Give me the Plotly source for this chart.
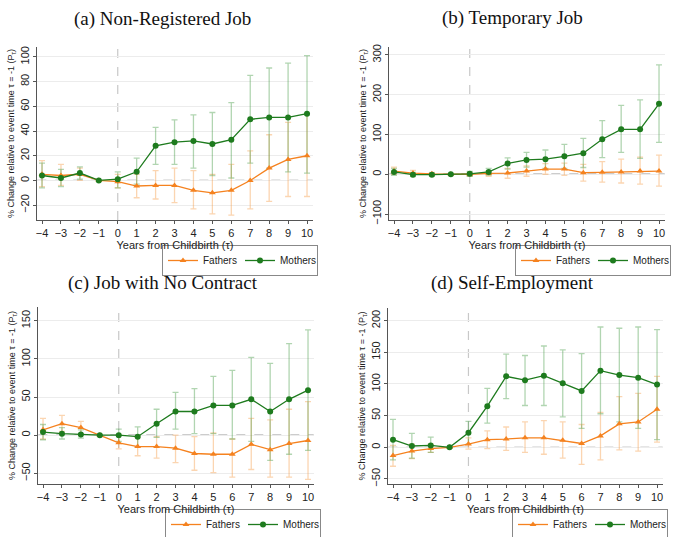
import plotly.graph_objects as go

years = list(range(-4, 11))

titles = ["(a) Non-Registered Job", "(b) Temporary Job", "(c) Job with No Contract", "(d) Self-Employment"]

a_mothers = [4, 2, 6, 0, 1, 7, 28, 31, 32, 29.5, 33, 49.5, 51, 51, 54]
a_mothers_lo = [-6, -5, 1, 0, -6, -3, 13, 13, 10, 4, 2, 14, 10, 7, 6]
a_mothers_hi = [14, 9, 11, 0, 7, 18, 43, 49, 53, 55, 63, 85, 91, 95, 101]
a_fathers = [5, 4, 5, 0, -1, -4.5, -4, -4, -8, -10, -8, 0, 10, 17, 20]
a_fathers_lo = [-5, -4, 0, 0, -6, -14, -15, -18, -23, -27, -28, -23, -17, -13, -13]
a_fathers_hi = [16, 13, 10, 0, 5, 5, 8, 10, 8, 5, 13, 24, 37, 47, 53]

b_mothers = [6, -1, -1, 0, 1, 6, 27, 36, 38, 45, 53, 88, 113, 113, 177]
b_mothers_lo = [-3, -6, -5, 0, -5, -2, 13, 18, 15, 15, 17, 42, 55, 40, 80]
b_mothers_hi = [15, 5, 3, 0, 7, 15, 41, 55, 61, 75, 90, 135, 173, 187, 275]
b_fathers = [8, 3, 1, 0, 0, 2, 3, 8, 13, 13, 4, 5, 6, 8, 8]
b_fathers_lo = [0, -4, -3, 0, -5, -5, -10, -5, 0, -3, -17, -20, -22, -25, -30]
b_fathers_hi = [18, 10, 5, 0, 5, 9, 15, 21, 27, 28, 25, 32, 38, 43, 48]

c_mothers = [4, 2, 1, 0, 0, -2, 15, 31, 31, 39, 39, 47, 31, 47, 59]
c_mothers_lo = [-6, -5, -4, 0, -8, -15, -3, 8, 2, 2, -5, -8, -33, -25, -20]
c_mothers_hi = [14, 10, 7, 0, 8, 11, 34, 56, 61, 77, 85, 102, 94, 120, 138]
c_fathers = [7, 15, 10, 0, -10, -15, -15, -17, -24, -25, -25, -12, -19, -11, -7]
c_fathers_lo = [-5, 5, 2, 0, -18, -27, -30, -36, -46, -49, -55, -45, -55, -55, -58]
c_fathers_hi = [22, 26, 18, 0, 0, -3, -2, 0, -2, 3, -5, 22, 20, 34, 44]

d_mothers = [12, 2, 3, 0, 23, 65, 112, 106, 113, 101, 89, 121, 114, 110, 99]
d_mothers_lo = [-20, -17, -8, 0, 5, 38, 77, 66, 66, 48, 30, 53, 40, 30, 12]
d_mothers_hi = [44, 22, 16, 0, 41, 93, 147, 145, 160, 154, 148, 190, 188, 190, 186]
d_fathers = [-13, -6, -2, 0, 5, 12, 13, 15, 15, 11, 6, 18, 37, 40, 60]
d_fathers_lo = [-30, -18, -8, 0, -3, -2, -5, -8, -11, -17, -27, -20, -4, -6, 8]
d_fathers_hi = [3, 5, 5, 0, 15, 26, 32, 40, 42, 40, 36, 55, 80, 85, 112]

y_ticks = [
    [-20, 0, 20, 40, 60, 80, 100],
    [-100, 0, 100, 200, 300],
    [-50, 0, 50, 100, 150],
    [-50, 0, 50, 100, 150, 200],
]
y_ranges = [[-32, 108], [-115, 320], [-64, 168], [-58, 220]]

data = [
    (a_fathers, a_fathers_lo, a_fathers_hi, a_mothers, a_mothers_lo, a_mothers_hi),
    (b_fathers, b_fathers_lo, b_fathers_hi, b_mothers, b_mothers_lo, b_mothers_hi),
    (c_fathers, c_fathers_lo, c_fathers_hi, c_mothers, c_mothers_lo, c_mothers_hi),
    (d_fathers, d_fathers_lo, d_fathers_hi, d_mothers, d_mothers_lo, d_mothers_hi),
]

W, H = 680, 537
# pixel layout of each panel: (x0, x1, y0_top, y1_bottom)
boxes = [(37.3, 312.7, 47, 220), (389.3, 664.7, 47, 220),
         (38.3, 313.7, 307, 484), (388.3, 662.7, 308, 484)]
title_pos = [(162, 19), (512, 18), (163, 283), (512, 283)]
legend_pos = [(162, 245), (515, 245), (165, 509), (512, 509)]

ORANGE = "#f5821f"
GREEN = "#1e7b1e"
ORANGE_EB = "rgba(245,150,60,0.4)"
GREEN_EB = "rgba(60,150,60,0.4)"
FONT = "Liberation Sans, Arial"

fig = go.Figure()
layout = {}
for i in range(4):
    fa, fl, fh, mo, ml, mh = data[i]
    n = "" if i == 0 else str(i + 1)
    xa, ya = "x" + n, "y" + n
    lg = "legend" + n
    # error bars first (drawn underneath)
    for vals, lo, hi, col in [(fa, fl, fh, ORANGE_EB), (mo, ml, mh, GREEN_EB)]:
        fig.add_trace(go.Scatter(
            x=years, y=vals, mode="markers", xaxis=xa, yaxis=ya,
            marker=dict(size=1, color="rgba(0,0,0,0)"),
            error_y=dict(type="data", symmetric=False,
                         array=[h - v for h, v in zip(hi, vals)],
                         arrayminus=[v - l for v, l in zip(vals, lo)],
                         color=col, thickness=1.3, width=3),
            showlegend=False, hoverinfo="skip"))
    fig.add_trace(go.Scatter(
        x=years, y=fa, mode="lines+markers", name="Fathers", xaxis=xa, yaxis=ya,
        line=dict(color=ORANGE, width=1.3),
        marker=dict(symbol="triangle-up", size=6, color=ORANGE),
        legend=lg))
    fig.add_trace(go.Scatter(
        x=years, y=mo, mode="lines+markers", name="Mothers", xaxis=xa, yaxis=ya,
        line=dict(color=GREEN, width=1.3),
        marker=dict(symbol="circle", size=6, color=GREEN),
        legend=lg))

    x0, x1, yt, yb = boxes[i]
    layout["xaxis" + n] = dict(
        domain=[x0 / W, x1 / W], range=[-4.25, 10.3], anchor=ya,
        tickvals=years, ticks="outside", ticklen=3, tickcolor="#555",
        showline=True, linecolor="#555", linewidth=1, showgrid=False, zeroline=False,
        tickfont=dict(family=FONT, size=11, color="#222"),
        title=dict(text="Years from Childbirth (τ)", standoff=0,
                   font=dict(family=FONT, size=11, color="#222")),
        automargin=False)
    layout["yaxis" + n] = dict(
        domain=[1 - yb / H, 1 - yt / H], range=y_ranges[i], anchor=xa,
        tickvals=y_ticks[i], tickangle=-90, ticks="outside", ticklen=3, tickcolor="#555",
        showline=True, linecolor="#555", linewidth=1,
        showgrid=True, gridcolor="#ececec", gridwidth=1, zeroline=False,
        tickfont=dict(family=FONT, size=11, color="#222"),
        title=dict(text="% Change relative to event time τ = -1 (P<sub>τ</sub>)", standoff=2,
                   font=dict(family=FONT, size=9, color="#222")),
        automargin=False)
    lx, ly = legend_pos[i]
    layout[lg] = dict(
        x=lx / W, y=1 - ly / H, xanchor="left", yanchor="top",
        orientation="h", bordercolor="#888", borderwidth=1, bgcolor="white",
        font=dict(family=FONT, size=10, color="#222"),
        itemwidth=30, entrywidth=32, entrywidthmode="pixels", tracegroupgap=0)

shapes = []
annotations = []
for i in range(4):
    n = "" if i == 0 else str(i + 1)
    xa, ya = "x" + n, "y" + n
    shapes.append(dict(type="line", xref=xa, yref=ya + " domain", x0=0, x1=0, y0=0, y1=1,
                       line=dict(color="#c8c8c8", width=1.2, dash="dash"), layer="below"))
    shapes.append(dict(type="line", xref=xa + " domain", yref=ya, x0=0, x1=1, y0=0, y1=0,
                       line=dict(color="#999999", width=1.3, dash="dash"), layer="below"))
    tx, ty = title_pos[i]
    annotations.append(dict(text=titles[i], x=tx / W, y=1 - ty / H, xref="paper", yref="paper",
                            xanchor="center", yanchor="middle", showarrow=False,
                            font=dict(family="Liberation Serif, serif", size=19, color="#111")))

fig.update_layout(
    width=W, height=H, margin=dict(l=0, r=0, t=0, b=0, autoexpand=False),
    paper_bgcolor="white", plot_bgcolor="white",
    shapes=shapes, annotations=annotations, **layout)

fig.write_html("out.html", config={"displayModeBar": False},
               post_script="document.body.style.margin='0';document.body.style.overflow='hidden';")
